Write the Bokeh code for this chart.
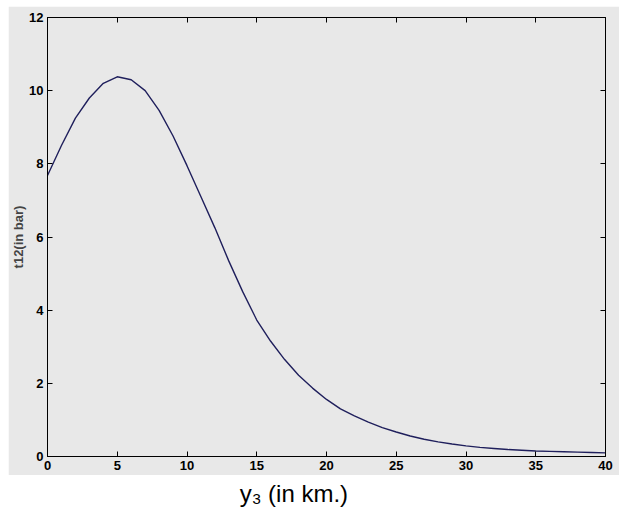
from bokeh.plotting import figure
from bokeh.models import Range1d, LinearAxis, FixedTicker, Label, CustomJSTickFormatter
from bokeh.layouts import column
from bokeh.embed import file_html
from bokeh.resources import INLINE

# ---- data ----
depth_km = list(range(0, 41))
t12_bar = [7.68, 8.50, 9.25, 9.80, 10.20, 10.38, 10.30, 10.00, 9.46, 8.76,
           7.95, 7.10, 6.25, 5.34, 4.50, 3.73, 3.15, 2.65, 2.22, 1.87,
           1.56, 1.30, 1.11, 0.94, 0.79, 0.67, 0.56, 0.47, 0.40, 0.34,
           0.29, 0.25, 0.22, 0.19, 0.17, 0.15, 0.14, 0.13, 0.12, 0.11, 0.10]
x_ticks = [0, 5, 10, 15, 20, 25, 30, 35, 40]
y_ticks = [0, 2, 4, 6, 8, 10, 12]

GRAY = "#e8e8e8"
FONT = "Liberation Sans"

p = figure(width=611, height=469, output_backend="svg", toolbar_location=None,
           x_range=Range1d(0, 40), y_range=Range1d(0, 12),
           background_fill_color=GRAY, border_fill_color=GRAY,
           min_border_left=39, min_border_right=14, min_border_top=11, min_border_bottom=19,
           x_axis_location=None, y_axis_location=None,
           margin=(6, 4, 0, 8))
p.grid.visible = False
p.outline_line_color = "black"
p.outline_line_width = 1

def style_axis(ax, ticks, show_labels):
    ax.ticker = FixedTicker(ticks=ticks)
    ax.minor_tick_line_color = None
    ax.major_tick_in = 5
    ax.major_tick_out = 0
    ax.axis_line_color = "black"
    ax.major_tick_line_color = "black"
    if show_labels:
        ax.major_label_text_font = FONT
        ax.major_label_text_font_style = "bold"
        ax.major_label_text_font_size = "13px"
        ax.major_label_text_color = "black"
        ax.major_label_standoff = 4
    else:
        ax.formatter = CustomJSTickFormatter(code="return ''")
        ax.major_label_text_font_size = "1px"
        ax.major_label_standoff = 0

xb = LinearAxis()
style_axis(xb, x_ticks, True)
p.add_layout(xb, "below")
yl = LinearAxis(axis_label="t12(in bar)")
style_axis(yl, y_ticks, True)
yl.axis_label_text_font = FONT
yl.axis_label_text_font_style = "bold"
yl.axis_label_text_font_size = "13px"
yl.axis_label_standoff = 0
p.add_layout(yl, "left")
xt = LinearAxis()
style_axis(xt, x_ticks, False)
p.add_layout(xt, "above")
yr = LinearAxis()
style_axis(yr, y_ticks, False)
p.add_layout(yr, "right")

p.line(depth_km, t12_bar, line_color="#1f1f5c", line_width=1.4)

# strip below the gray panel holding the x-axis title
s = figure(width=623, height=33, output_backend="svg", toolbar_location=None,
           x_range=Range1d(0, 623), y_range=Range1d(0, 33),
           x_axis_location=None, y_axis_location=None,
           min_border=0, border_fill_color="white", background_fill_color="white")
s.grid.visible = False
s.outline_line_color = None
s.add_layout(Label(x=278, y=15, text="y\u2083 (in km.)", text_align="center",
                   text_baseline="middle", text_font=FONT, text_font_size="24px",
                   text_color="black"))

layout = column(p, s, spacing=0)
open("out.html", "w").write(file_html(layout, INLINE))
